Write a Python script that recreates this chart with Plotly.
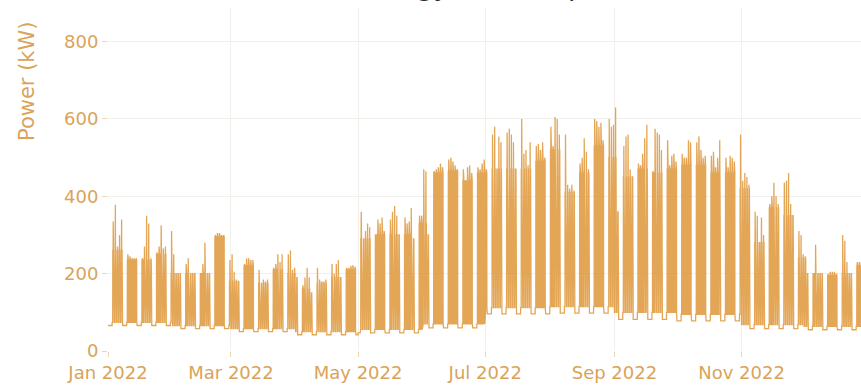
import pandas as pd
import plotly.graph_objects as go

# Midday peak load (kW) for each working week, Monday..Friday, starting Mon 3 Jan 2022
weekday_peak_kw = [
    [335, 378, 270, 300, 340], [250, 245, 240, 240, 240], [240, 270, 350, 330, 240],
    [255, 270, 325, 265, 270], [310, 250, 200, 200, 200], [225, 240, 200, 200, 200],
    [200, 225, 280, 200, 200], [300, 305, 305, 300, 300], [235, 250, 205, 185, 180],
    [225, 240, 240, 235, 235], [210, 175, 185, 180, 185], [215, 225, 250, 230, 250],
    [250, 260, 210, 215, 190], [170, 190, 215, 190, 150], [215, 185, 180, 180, 185],
    [225, 200, 225, 235, 190], [215, 215, 220, 222, 218], [360, 290, 310, 330, 320],
    [300, 340, 330, 345, 310], [340, 360, 375, 350, 300], [345, 330, 335, 370, 290],
    [350, 350, 470, 465, 300], [465, 470, 475, 485, 475], [495, 500, 490, 480, 470],
    [470, 440, 475, 480, 460], [475, 470, 485, 495, 470], [560, 580, 470, 555, 540],
    [565, 575, 560, 540, 470], [600, 510, 520, 480, 540], [530, 535, 520, 540, 500],
    [580, 530, 605, 600, 560], [560, 430, 420, 430, 415], [485, 500, 550, 515, 470],
    [600, 595, 580, 590, 545], [600, 580, 585, 630, 360], [530, 555, 560, 470, 450],
    [485, 480, 510, 550, 585], [465, 575, 565, 560, 520], [545, 480, 505, 510, 490],
    [510, 500, 500, 545, 540], [540, 555, 520, 500, 505], [505, 515, 475, 500, 545],
    [500, 475, 505, 500, 490], [560, 440, 460, 450, 430], [360, 350, 280, 345, 300],
    [380, 400, 435, 400, 380], [435, 440, 460, 380, 350], [310, 300, 250, 245, 200],
    [200, 275, 200, 200, 200], [200, 205, 205, 205, 200], [300, 285, 230, 200, 200],
    [230, 230, 230, 230, 230],
]

# Typical working-hours load outside the midday peak, one value per week (kW)
weekday_day_kw = [
    260, 235, 235, 250, 200, 200, 200, 295, 180, 220, 175, 210, 200,
    160, 175, 190, 210, 290, 300, 300, 300, 330, 460, 465, 440, 460,
    470, 470, 470, 490, 520, 410, 460, 530, 500, 450, 470, 460, 470,
    480, 480, 460, 460, 420, 280, 370, 350, 240, 200, 195, 200, 220,
]

# Overnight base load on working days and the flat weekend load, per month (kW)
night_kw_by_month = [74, 66, 58, 50, 56, 70, 112, 115, 100, 95, 68, 64]
weekend_kw_by_month = [66, 58, 50, 42, 47, 60, 96, 98, 82, 78, 58, 55]

first_monday = pd.Timestamp("2022-01-03")
times, power = [], []
for day in pd.date_range("2022-01-01", "2022-12-31", freq="D"):
    m = day.month - 1
    if day.weekday() < 5:
        week = (day - first_monday).days // 7
        peak = weekday_peak_kw[week][day.weekday()]
        base_day = min(weekday_day_kw[week], peak)
        night = night_kw_by_month[m]
        profile = [(0, night), (6, night), (7, base_day), (11, base_day),
                   (12, peak), (13, peak), (14, base_day), (18, base_day), (19, night)]
    else:
        wk = weekend_kw_by_month[m]
        profile = [(0, wk), (23, wk)]
    for hour, kw in profile:
        times.append(day + pd.Timedelta(hours=hour))
        power.append(kw)

W, H = 861, 386
ML, MR, MT, MB = 108, 0, 8, 35
PW, PH = W - ML - MR, H - MT - MB

def px_to_paper(x, y):
    return (x - ML) / PW, (H - MB - y) / PH

line_col = "rgba(222,150,58,0.85)"
label_col = "#D9A459"
font_family = "DejaVu Sans"

fig = go.Figure(
    go.Scatter(x=times, y=power, mode="lines",
               line=dict(color=line_col, width=1.3), hoverinfo="skip")
)

tx, ty = px_to_paper(353, 3)
ax_x, ax_y = px_to_paper(27, 82)
fig.update_layout(
    width=W, height=H,
    margin=dict(l=ML, r=MR, t=MT, b=MB, pad=0),
    paper_bgcolor="white", plot_bgcolor="white",
    showlegend=False,
    font=dict(family=font_family, color=label_col, size=18),
    annotations=[
        dict(text="Energy Consumption", xref="paper", yref="paper", x=tx, y=ty,
             xanchor="left", yanchor="bottom", showarrow=False,
             font=dict(family=font_family, size=27, color="#2b2b2b")),
        dict(text="Power (kW)", xref="paper", yref="paper", x=ax_x, y=ax_y,
             xanchor="center", yanchor="middle", textangle=-90, showarrow=False,
             font=dict(family=font_family, size=21, color=label_col)),
    ],
)
fig.update_xaxes(
    range=["2022-01-01", "2022-12-28 07:00"],
    dtick="M2", tick0="2022-01-01", tickformat="%b %Y",
    ticks="outside", ticklen=5, tickcolor="#e9d6b6",
    showgrid=True, gridcolor="#f3f0eb", gridwidth=1,
    zeroline=False, showline=False,
    tickfont=dict(family=font_family, size=18, color=label_col),
)
fig.update_yaxes(
    range=[0, 887], dtick=200, tick0=0,
    ticks="outside", ticklen=5, tickcolor="#e9d6b6",
    showgrid=True, gridcolor="#f3f0eb", gridwidth=1,
    zeroline=False, showline=False,
    tickfont=dict(family=font_family, size=18, color=label_col),
)

fig.write_html("out.html")
